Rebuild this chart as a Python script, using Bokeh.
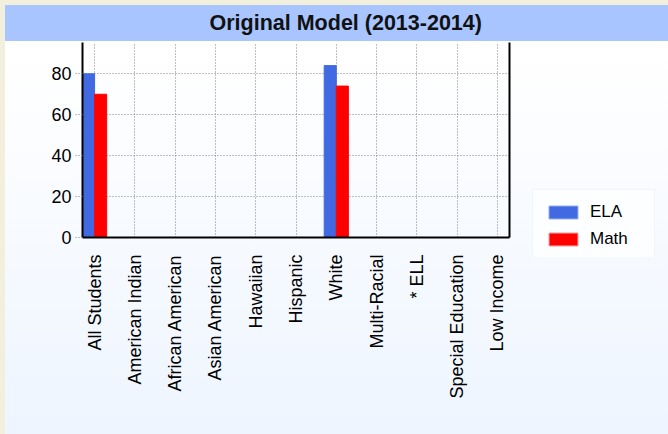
import math
from bokeh.plotting import figure
from bokeh.models import (Range1d, FixedTicker, LinearAxis, ColumnDataSource,
                          GlobalInlineStyleSheet, Legend, LegendItem)
from bokeh.transform import dodge
from bokeh.embed import file_html
from bokeh.resources import INLINE

NaN = float("nan")

title_text = "Original Model (2013-2014)"
categories = ["All Students", "American Indian", "African American", "Asian American",
              "Hawaiian", "Hispanic", "White", "Multi-Racial", "* ELL",
              "Special Education", "Low Income"]
ela = [80, NaN, NaN, NaN, NaN, NaN, 84, NaN, NaN, NaN, NaN]
math_vals = [70, NaN, NaN, NaN, NaN, NaN, 74, NaN, NaN, NaN, NaN]
y_ticks = [0, 20, 40, 60, 80]
series_names = ["ELA", "Math"]
series_colors = ["#4169E1", "#FF0000"]

FONT = "Liberation Sans"
W, H = 668, 434
BEIGE = "#F2F0DC"
BG = ("linear-gradient(to right, %s 5px, transparent 5px), "
      "linear-gradient(to bottom, %s 5px, #A8C5FF 5px, #A8C5FF 41px, "
      "#ffffff 41px, #ffffff 50px, #eef5ff 100%%)" % (BEIGE, BEIGE))

idx = list(range(len(categories)))
src = ColumnDataSource(data=dict(x=idx, ela=ela, math=math_vals))

p = figure(width=W, height=H, output_backend="svg", toolbar_location=None,
           x_range=Range1d(-0.3, len(categories) - 1 + 0.3), y_range=Range1d(0, 95.3),
           min_border_left=82, min_border_right=159, min_border_top=42,
           min_border_bottom=197)
p.stylesheets = [GlobalInlineStyleSheet(css="body{background:%s;}" % BEIGE)]
p.styles = {"background": BG}
p.border_fill_alpha = 0
p.background_fill_alpha = 0
p.outline_line_color = None

# title (sits in the blue header band)
p.title.text = title_text
p.title.align = "left"
p.title.offset = 127
p.title.standoff = 16
p.title.text_font = FONT
p.title.text_font_size = "21.5px"
p.title.text_font_style = "bold"
p.title.text_color = "#111111"

p.vbar(x=dodge("x", -0.15, range=p.x_range), top="ela", width=0.3, source=src,
       fill_color=series_colors[0], line_color=series_colors[0])
p.vbar(x=dodge("x", 0.15, range=p.x_range), top="math", width=0.3, source=src,
       fill_color=series_colors[1], line_color=series_colors[1])

# x axis
p.xaxis.ticker = FixedTicker(ticks=idx)
p.xaxis.major_label_overrides = {i: c for i, c in zip(idx, categories)}
p.xaxis.major_label_orientation = math.pi / 2
p.xaxis.major_tick_out = 0
p.xaxis.major_tick_in = 0
p.xaxis.minor_tick_line_color = None
p.xaxis.major_label_standoff = 17
p.xaxis.major_label_text_font = FONT
p.xaxis.major_label_text_font_size = "18px"
p.xaxis.major_label_text_color = "#000000"
p.xaxis.axis_line_width = 2
p.xaxis.axis_line_color = "#000000"

# y axis
p.yaxis.ticker = FixedTicker(ticks=y_ticks)
p.yaxis.major_tick_out = 7
p.yaxis.major_tick_in = 0
p.yaxis.major_tick_line_color = "#808080"
p.yaxis.major_tick_line_dash = "1 2"
p.yaxis.minor_tick_line_color = None
p.yaxis.major_label_standoff = 4
p.yaxis.major_label_text_font = FONT
p.yaxis.major_label_text_font_size = "18px"
p.yaxis.major_label_text_color = "#000000"
p.yaxis.axis_line_width = 2
p.yaxis.axis_line_color = "#000000"

right = LinearAxis(ticker=FixedTicker(ticks=[]), axis_line_width=2,
                   axis_line_color="#000000", major_tick_out=0, major_tick_in=0,
                   minor_tick_out=0, minor_tick_in=0, major_label_standoff=0,
                   major_label_text_font_size="0px")
p.add_layout(right, "right")

# grid
p.xgrid.ticker = FixedTicker(ticks=idx)
p.ygrid.ticker = FixedTicker(ticks=y_ticks)
p.grid.grid_line_color = "#808080"
p.grid.grid_line_dash = "1 2"
p.grid.grid_line_width = 1

# ---------- legend: small separate figure placed over the right side ----------
lf = figure(width=128, height=69, output_backend="svg", toolbar_location=None,
            x_axis_location=None, y_axis_location=None,
            x_range=Range1d(0, 1), y_range=Range1d(0, 1),
            min_border_left=0, min_border_right=0, min_border_top=0,
            min_border_bottom=0)
lf.styles = {"position": "absolute", "left": "531px", "top": "188px"}
lf.border_fill_alpha = 0
lf.background_fill_alpha = 0
lf.outline_line_color = None
lf.grid.visible = False
# key swatches only (no visible bar: the value is missing)
key_src = ColumnDataSource(data=dict(x=[0.5], top=[NaN]))
k_ela = lf.vbar(x="x", top="top", width=0.3, source=key_src,
                fill_color=series_colors[0], line_color="#7f9cf0")
k_math = lf.vbar(x="x", top="top", width=0.3, source=key_src,
                 fill_color=series_colors[1], line_color="#ff8080")

lg = Legend(items=[LegendItem(label=series_names[0], renderers=[k_ela]),
                   LegendItem(label=series_names[1], renderers=[k_math])])
lg.location = "top_left"
lg.orientation = "vertical"
lg.glyph_width = 36
lg.glyph_height = 16
lg.label_text_font = FONT
lg.label_text_font_size = "17px"
lg.label_text_color = "#000000"
lg.label_standoff = 9
lg.label_height = 16
lg.label_width = 52
lg.spacing = 7
lg.padding = 12
lg.margin = 1
lg.background_fill_color = "#ffffff"
lg.background_fill_alpha = 0.7
lg.border_line_color = "#E6ECF8"
lf.add_layout(lg, "center")

open("out.html", "w").write(file_html([p, lf], INLINE))
